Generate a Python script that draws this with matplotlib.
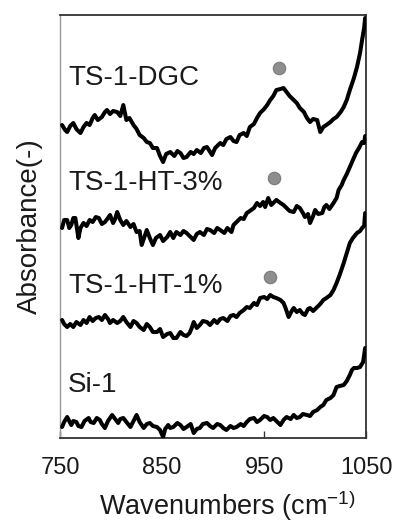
import matplotlib
matplotlib.use("Agg")
import matplotlib.pyplot as plt

plt.rcParams["font.family"] = ["Liberation Sans", "DejaVu Sans"]
plt.rcParams["mathtext.fontset"] = "custom"
plt.rcParams["mathtext.rm"] = "Liberation Sans"
plt.rcParams["mathtext.it"] = "Liberation Sans"
plt.rcParams["mathtext.default"] = "rm"

# Absorbance spectra, stacked with vertical offsets (arb. units)
wn_dgc = [752, 755, 757, 760, 763, 766, 770, 773, 776, 779, 782, 784, 787, 791,
          794, 796, 799, 802, 806, 809, 812, 815, 818, 822, 825, 828, 832, 835,
          838, 841, 845, 848, 851, 854, 858, 862, 865, 868, 871, 874, 878, 881,
          884, 888, 891, 894, 899, 902, 907, 910, 913, 917, 920, 923, 926, 930,
          933, 936, 940, 943, 946, 950, 953, 956, 959, 962, 966, 969, 972, 975,
          979, 982, 985, 989, 992, 995, 998, 1002, 1005, 1008, 1011, 1015, 1018,
          1021, 1025, 1028, 1031, 1034, 1038, 1041, 1044, 1046, 1048, 1049]
abs_dgc = [3.13, 3.08, 3.06, 3.12, 3.15, 3.09, 3.05, 3.11, 3.15, 3.13, 3.20,
           3.23, 3.18, 3.21, 3.26, 3.28, 3.24, 3.27, 3.26, 3.22, 3.33, 3.18,
           3.20, 3.13, 3.09, 3.03, 3.00, 2.96, 2.95, 2.90, 2.90, 2.82, 2.76,
           2.84, 2.86, 2.82, 2.87, 2.85, 2.80, 2.81, 2.86, 2.84, 2.88, 2.85,
           2.90, 2.91, 2.83, 2.90, 2.95, 2.93, 2.99, 3.01, 2.97, 2.96, 3.03,
           3.05, 3.02, 3.11, 3.14, 3.20, 3.25, 3.29, 3.33, 3.38, 3.42, 3.48,
           3.49, 3.50, 3.46, 3.42, 3.38, 3.35, 3.30, 3.26, 3.20, 3.16, 3.19,
           3.18, 3.06, 3.11, 3.13, 3.16, 3.19, 3.21, 3.26, 3.31, 3.38, 3.48,
           3.60, 3.71, 3.85, 3.98, 4.10, 4.20]

wn_ht3 = [752, 754, 757, 759, 761, 763, 765, 768, 770, 773, 776, 779, 782, 785,
          788, 791, 794, 797, 799, 802, 804, 806, 809, 812, 815, 819, 822, 825,
          828, 830, 833, 835, 838, 841, 844, 848, 851, 855, 858, 861, 864, 868,
          871, 874, 877, 881, 884, 887, 891, 894, 897, 901, 904, 907, 911, 914,
          918, 920, 923, 927, 930, 933, 936, 940, 943, 946, 949, 951, 954, 957,
          959, 962, 966, 969, 972, 975, 979, 982, 985, 988, 990, 993, 995, 998,
          1000, 1003, 1007, 1009, 1011, 1014, 1018, 1021, 1023, 1026, 1028,
          1031, 1034, 1037, 1040, 1043, 1046, 1048, 1049]
abs_ht3 = [2.10, 2.18, 2.18, 2.10, 2.13, 2.20, 2.20, 2.00, 2.10, 2.15, 2.12,
           2.18, 2.16, 2.21, 2.20, 2.14, 2.16, 2.20, 2.23, 2.15, 2.19, 2.26,
           2.18, 2.13, 2.17, 2.11, 2.14, 2.06, 2.07, 1.93, 2.02, 2.08, 2.00,
           1.93, 2.00, 2.03, 1.97, 2.01, 2.06, 2.00, 2.06, 2.03, 2.07, 2.05,
           2.02, 1.98, 2.04, 2.06, 2.03, 2.09, 2.08, 2.05, 2.10, 2.08, 2.05,
           2.10, 2.06, 2.13, 2.16, 2.20, 2.19, 2.25, 2.27, 2.30, 2.35, 2.32,
           2.36, 2.31, 2.40, 2.33, 2.35, 2.38, 2.35, 2.33, 2.30, 2.27, 2.26,
           2.32, 2.30, 2.25, 2.21, 2.24, 2.15, 2.22, 2.28, 2.24, 2.25, 2.31,
           2.33, 2.29, 2.35, 2.40, 2.48, 2.53, 2.58, 2.64, 2.71, 2.78, 2.85,
           2.90, 2.96, 2.95, 3.02]

wn_ht1 = [752, 754, 757, 760, 763, 766, 770, 773, 776, 779, 782, 785, 788, 791,
          794, 797, 799, 802, 806, 809, 812, 815, 819, 822, 825, 828, 832, 835,
          838, 841, 845, 848, 851, 855, 858, 861, 864, 868, 871, 874, 877, 879,
          881, 884, 887, 890, 894, 897, 901, 904, 907, 910, 914, 917, 920, 923,
          926, 930, 933, 936, 940, 943, 946, 950, 953, 956, 959, 962, 966, 969,
          971, 974, 977, 979, 982, 985, 988, 990, 993, 995, 998, 1002, 1005,
          1008, 1011, 1015, 1018, 1021, 1024, 1028, 1031, 1034, 1037, 1041,
          1044, 1046, 1048, 1049]
abs_ht1 = [1.18, 1.14, 1.11, 1.14, 1.11, 1.16, 1.13, 1.18, 1.15, 1.21, 1.17,
           1.20, 1.21, 1.18, 1.23, 1.19, 1.15, 1.18, 1.15, 1.17, 1.21, 1.16,
           1.11, 1.17, 1.15, 1.11, 1.08, 1.14, 1.11, 1.06, 1.06, 1.09, 1.01,
           1.04, 1.05, 1.00, 1.00, 1.06, 1.03, 1.02, 1.05, 1.10, 1.16, 1.10,
           1.13, 1.17, 1.16, 1.13, 1.18, 1.15, 1.19, 1.20, 1.17, 1.22, 1.23,
           1.21, 1.25, 1.28, 1.31, 1.30, 1.35, 1.33, 1.40, 1.41, 1.39, 1.43,
           1.41, 1.40, 1.38, 1.35, 1.30, 1.21, 1.27, 1.30, 1.26, 1.28, 1.24,
           1.23, 1.29, 1.30, 1.27, 1.31, 1.34, 1.38, 1.40, 1.43, 1.48, 1.55,
           1.63, 1.75, 1.85, 1.95, 2.00, 2.05, 2.07, 2.10, 2.12, 2.25]

wn_si1 = [752, 754, 757, 759, 761, 763, 766, 768, 771, 774, 778, 780, 783, 786,
          789, 791, 794, 797, 801, 804, 807, 809, 812, 815, 819, 822, 825, 828,
          832, 835, 838, 841, 845, 848, 851, 853, 856, 858, 861, 865, 868, 871,
          874, 878, 881, 884, 887, 890, 894, 897, 900, 904, 907, 910, 913, 917,
          920, 923, 927, 930, 933, 936, 940, 943, 946, 950, 953, 956, 959, 962,
          966, 969, 972, 976, 979, 982, 985, 988, 992, 995, 998, 1002, 1005,
          1008, 1011, 1015, 1018, 1021, 1024, 1028, 1031, 1034, 1036, 1038,
          1041, 1044, 1047, 1049]
abs_si1 = [0.11, 0.16, 0.21, 0.17, 0.13, 0.17, 0.16, 0.12, 0.11, 0.17, 0.20,
           0.16, 0.15, 0.20, 0.18, 0.14, 0.10, 0.17, 0.23, 0.19, 0.15, 0.19,
           0.20, 0.16, 0.11, 0.17, 0.23, 0.16, 0.10, 0.14, 0.15, 0.12, 0.11,
           0.08, 0.01, 0.09, 0.13, 0.10, 0.11, 0.15, 0.13, 0.09, 0.11, 0.14,
           0.05, 0.09, 0.10, 0.14, 0.15, 0.12, 0.10, 0.14, 0.13, 0.10, 0.08,
           0.12, 0.10, 0.11, 0.14, 0.12, 0.16, 0.19, 0.20, 0.16, 0.18, 0.22,
           0.21, 0.18, 0.20, 0.17, 0.13, 0.18, 0.21, 0.19, 0.23, 0.20, 0.21,
           0.24, 0.23, 0.22, 0.26, 0.28, 0.31, 0.33, 0.38, 0.40, 0.43, 0.51,
           0.52, 0.53, 0.57, 0.63, 0.68, 0.70, 0.70, 0.71, 0.76, 0.90]

# Ti-framework band markers
marker_wn = [965, 960, 956]
marker_abs = [3.70, 2.60, 1.61]

sample_names = ["TS-1-DGC", "TS-1-HT-3%", "TS-1-HT-1%", "Si-1"]
label_abs = [3.53, 2.48, 1.45, 0.46]

x_ticks = [750, 850, 950, 1050]

fig = plt.figure(figsize=(3.95, 5.25), dpi=100)
ax = fig.add_axes([0.152, 0.1657, 0.775, 0.8057])

for wn, a in [(wn_dgc, abs_dgc), (wn_ht3, abs_ht3), (wn_ht1, abs_ht1), (wn_si1, abs_si1)]:
    ax.plot(wn, a, color="black", lw=2.9, solid_joinstyle="round",
            solid_capstyle="round", zorder=3)

ax.scatter(marker_wn, marker_abs, s=80, color="#8e8e8e", edgecolors="#7a7a7a",
           linewidths=0.8, zorder=4)

for name, y in zip(sample_names, label_abs):
    ax.text(758, y, name, fontsize=20, color="#1a1a1a", ha="left", va="baseline")

ax.set_xlim(750, 1050)
ax.set_ylim(0, 4.23)
ax.set_xticks(x_ticks)
ax.set_xticklabels([str(t) for t in x_ticks], fontsize=17, color="#1a1a1a")
ax.tick_params(axis="x", direction="in", length=5, width=1, pad=14, color="#333333")
ax.set_yticks([])

for side in ["top", "right", "bottom"]:
    ax.spines[side].set_color("#333333")
    ax.spines[side].set_linewidth(1.3)
ax.spines["left"].set_color("#999999")
ax.spines["left"].set_linewidth(1.0)

fig.text(227 / 395, 2 / 525, "Wavenumbers (cm$^{-1)}$", fontsize=19.5,
         color="#1a1a1a", ha="center", va="bottom")
ax.set_ylabel("Absorbance(-)", fontsize=20, color="#1a1a1a", labelpad=12)

fig.savefig("out.png", dpi=100)
